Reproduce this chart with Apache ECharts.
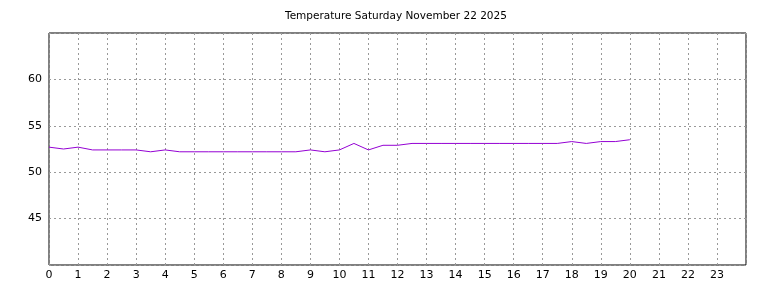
<!DOCTYPE html>
<html>
<head>
<meta charset="utf-8">
<script src="https://cdn.jsdelivr.net/npm/echarts@6/dist/echarts.min.js"></script>
<style>
  html, body { margin: 0; padding: 0; background: #fff; }
  #chart { width: 768px; height: 288px; }
</style>
</head>
<body>
<div id="chart"></div>
<script>
// half-hour readings, 00:00 to 20:00
var hours = [0, 0.5, 1, 1.5, 2, 2.5, 3, 3.5, 4, 4.5, 5, 5.5, 6, 6.5, 7, 7.5, 8, 8.5,
             9, 9.5, 10, 10.5, 11, 11.5, 12, 12.5, 13, 13.5, 14, 14.5, 15, 15.5, 16, 16.5,
             17, 17.5, 18, 18.5, 19, 19.5, 20];
var temps = [52.7, 52.5, 52.7, 52.4, 52.4, 52.4, 52.4, 52.2, 52.4, 52.2, 52.2, 52.2, 52.2, 52.2, 52.2, 52.2, 52.2, 52.2,
             52.4, 52.2, 52.4, 53.1, 52.4, 52.9, 52.9, 53.1, 53.1, 53.1, 53.1, 53.1, 53.1, 53.1, 53.1, 53.1,
             53.1, 53.1, 53.3, 53.1, 53.3, 53.3, 53.5];
var yTicks = [45, 50, 55, 60];

var chart = echarts.init(document.getElementById('chart'));
var pts = [];
for (var i = 0; i < hours.length; i++) {
    pts.push([hours[i], temps[i]]);
}

var gridLine = { show: true, lineStyle: { color: '#999', type: [2, 3], width: 1 } };

chart.setOption({
    animation: false,
    textStyle: { fontFamily: 'DejaVu Sans' },
    title: {
        text: 'Temperature Saturday November 22 2025',
        left: 285,
        top: 11,
        padding: 0,
        textStyle: { fontSize: 10.5, fontWeight: 'normal', color: '#000', fontFamily: 'DejaVu Sans' }
    },
    grid: {
        left: 49, right: 22, top: 33, bottom: 23,
        show: true, borderColor: '#000', borderWidth: 1
    },
    xAxis: {
        type: 'value',
        min: 0, max: 24, interval: 1,
        axisLine: { show: false },
        axisTick: { show: false },
        splitLine: gridLine,
        axisLabel: {
            color: '#000', fontSize: 11, margin: 5,
            formatter: function (v) { return v >= 24 ? '' : String(v); }
        }
    },
    yAxis: {
        type: 'value',
        min: 40, max: 65, interval: 5,
        axisLine: { show: false },
        axisTick: { show: false },
        splitLine: gridLine,
        axisLabel: {
            color: '#000', fontSize: 11, margin: 7,
            formatter: function (v) { return yTicks.indexOf(v) >= 0 ? String(v) : ''; }
        }
    },
    series: [{
        type: 'line',
        data: pts,
        symbol: 'none',
        lineStyle: { color: '#9400d3', width: 1 }
    }]
});
</script>
</body>
</html>
